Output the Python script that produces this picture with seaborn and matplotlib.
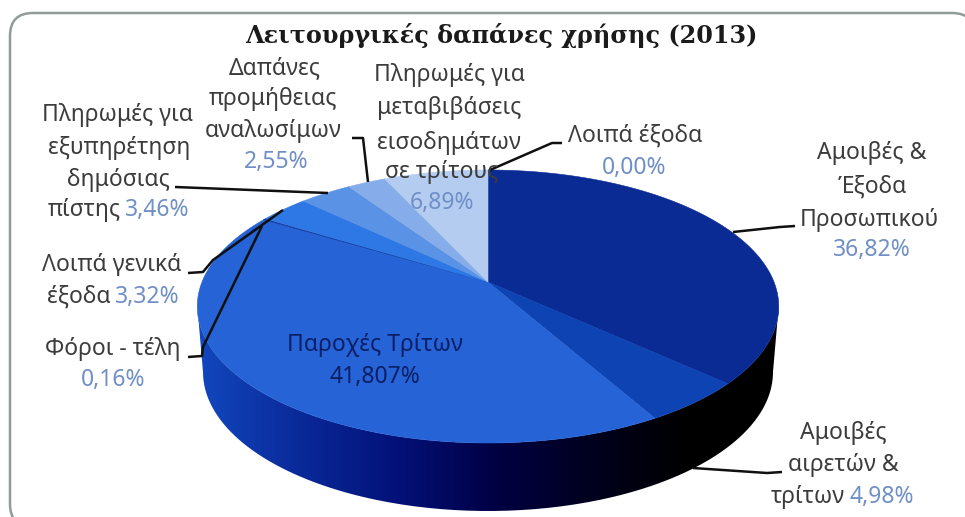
import numpy as np
import seaborn as sns
import matplotlib.pyplot as plt
from matplotlib.patches import FancyBboxPatch, PathPatch
from matplotlib.path import Path

shares = [36.82, 4.98, 41.807, 0.16, 3.32, 3.46, 2.55, 6.89, 0.00]
sliceColors = ['#0A2A94', '#0E43B4', '#2563D6', '#123A9E', '#2E78E6', '#5A92E6', '#86ADEA', '#B4CCF0', '#B4CCF0']
sideColors = ['#1247BE', '#0A2A9A', '#03127A', '#000045', '#000020', '#000000', '#000000']

titleText = 'Λειτουργικές δαπάνες χρήσης (2013)'
darkText = '#3C3C3C'
pctText = '#6F8FC6'

# text, x, y, colour
labels = [
    ('Δαπάνες', 275, 68, darkText), ('προμήθειας', 273, 99, darkText),
    ('αναλωσίμων', 273, 131, darkText), ('2,55%', 276, 162, pctText),
    ('Πληρωμές για', 117, 115, darkText), ('εξυπηρέτηση', 119, 148, darkText),
    ('δημόσιας', 118, 180, darkText),
    ('Πληρωμές για', 449, 75, darkText), ('μεταβιβάσεις', 449, 108, darkText),
    ('εισοδημάτων', 449, 143, darkText), ('σε τρίτους', 442, 172, darkText),
    ('6,89%', 442, 203, pctText),
    ('Λοιπά έξοδα', 635, 136, darkText), ('0,00%', 634, 168, pctText),
    ('Αμοιβές &', 872, 153, darkText), ('Έξοδα', 872, 187, darkText),
    ('Προσωπικού', 869, 220, darkText), ('36,82%', 872, 250, pctText),
    ('Αμοιβές', 843, 433, darkText), ('αιρετών &', 843, 465, darkText),
    ('Λοιπά γενικά', 112, 265, darkText),
    ('Φόροι - τέλη', 113, 349, darkText), ('0,16%', 113, 380, pctText),
    ('Παροχές Τρίτων', 375, 345, '#0A1F66'), ('41,807%', 375, 377, '#0A1F66'),
]
# left part, right part, x of the gap, y
mixedLabels = [
    ('πίστης', '3,46%', 121, 210),
    ('έξοδα', '3,32%', 111, 297),
    ('τρίτων', '4,98%', 845, 497),
]
leaders = [
    ([175, 328], [187, 193]),
    ([352, 363, 368], [138, 138, 182]),
    ([562, 552, 490], [143, 143, 170]),
    ([795, 780, 733], [226, 227, 232]),
    ([782, 767, 693], [472, 473, 468]),
    ([188, 203, 213, 283], [273, 272, 260, 210]),
    ([188, 202, 203, 262], [357, 356, 347, 226]),
]

centerX, centerY = 488, 282
radiusX, riseY, tilt = 286, 132.1, 0.1795
baseX, baseY, baseA, baseB = 488, 372, 285, 139
labelSize = 16.5


def project(angles):
    # clockwise from the top of a tilted disc, near edge drawn larger
    x, y = np.sin(angles), np.cos(angles)
    return centerX + radiusX * x / (1 + tilt * y), centerY - riseY * y / (1 + tilt * y)


def drawSide(ax):
    angles = np.linspace(-np.pi / 2, np.pi / 2, 200)
    edgeX, edgeY = project(np.linspace(np.radians(100), np.radians(260), 200))
    lowX = baseX + baseA * np.sin(angles)
    lowY = baseY + baseB * np.cos(angles)
    xs = np.concatenate([edgeX, lowX])
    ys = np.concatenate([edgeY, lowY])
    patch = PathPatch(Path(np.column_stack([xs, ys])), facecolor='none', edgecolor='none')
    ax.add_patch(patch)
    cmap = sns.blend_palette(sideColors, as_cmap=True)
    ramp = np.linspace(0, 1, 400).reshape(1, -1)
    img = ax.imshow(ramp, cmap=cmap, extent=(198, 785, 517, 280), aspect='auto', zorder=1)
    img.set_clip_path(patch)


def drawTop(ax):
    edges = np.cumsum([0] + shares) / sum(shares) * 2 * np.pi
    for i in range(len(shares)):
        if shares[i] == 0:
            continue
        arc = np.linspace(edges[i], edges[i + 1], 120)
        x, y = project(arc)
        ax.fill(np.r_[centerX, x], np.r_[centerY, y], facecolor=sliceColors[i],
                edgecolor=sliceColors[i], lw=0.4, zorder=2)


def main():
    sns.set_theme(style='white')
    plt.rcParams['font.family'] = ['Noto Sans', 'DejaVu Sans']
    fig = plt.figure(figsize=(9.65, 5.17), dpi=100)
    ax = fig.add_axes([0, 0, 1, 1])
    # right and bottom sides of the frame fall outside the picture
    frame = FancyBboxPatch((10, 13), 965, 514, boxstyle='round,pad=0,rounding_size=23',
                           facecolor='white', edgecolor='#939B98', lw=1.8, zorder=0)
    ax.add_patch(frame)

    drawSide(ax)
    drawTop(ax)

    for xs, ys in leaders:
        ax.plot(xs, ys, color='#101010', lw=1.8, zorder=3, solid_capstyle='butt')

    ax.text(501, 35, titleText, family='DejaVu Serif', weight='bold', fontsize=17.2,
            color='#1A1A1A', ha='center', va='center', zorder=4)
    for text, x, y, color in labels:
        ax.text(x, y, text, fontsize=labelSize, color=color, ha='center', va='center', zorder=4)
    for left, right, x, y in mixedLabels:
        ax.text(x, y, left, fontsize=labelSize, color=darkText, ha='right', va='center', zorder=4)
        ax.text(x + 4, y, right, fontsize=labelSize, color=pctText, ha='left', va='center', zorder=4)

    ax.set_xlim(0, 965)
    ax.set_ylim(517, 0)
    ax.axis('off')
    fig.savefig('out.png', dpi=100)


if __name__ == '__main__':
    main()
